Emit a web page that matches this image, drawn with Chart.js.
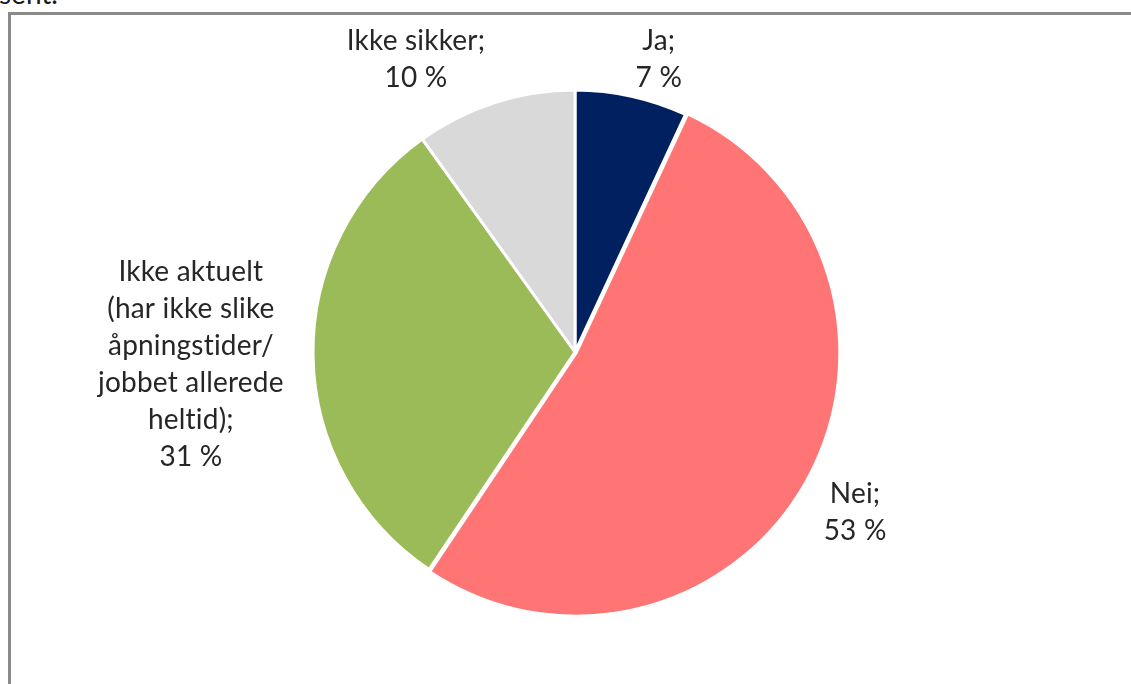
<!DOCTYPE html>
<html>
<head>
<meta charset="utf-8">
<script src="https://cdn.jsdelivr.net/npm/chart.js@4"></script>
<style>
    html, body {
        margin: 0;
        padding: 0;
        width: 1131px;
        height: 684px;
        overflow: hidden;
        background: #ffffff;
        font-family: Lato, "Open Sans", sans-serif;
    }
    .doc-text {
        position: absolute;
        left: -1px;
        top: -24px;
        font-size: 28px;
        color: #1a1a1a;
        white-space: nowrap;
    }
    .frame {
        position: absolute;
        left: 8px;
        top: 12px;
        width: 1140px;
        height: 700px;
        border: 3px solid #8a8a8a;
        box-sizing: border-box;
    }
    .chart-box {
        position: absolute;
        left: 0;
        top: 0;
        width: 1131px;
        height: 684px;
    }
</style>
</head>
<body>
<div class="doc-text">sent.</div>
<div class="frame"></div>
<div class="chart-box"><canvas id="pieChart"></canvas></div>

<script>
// Answer categories (clockwise from 12 o'clock), wrapped as shown in the labels
const categories = [
    ['Ja'],
    ['Nei'],
    ['Ikke aktuelt', '(har ikke slike', 'åpningstider/', 'jobbet allerede', 'heltid)'],
    ['Ikke sikker']
];
// Share of respondents, percent
const shares = [7, 53, 31, 10];
const sliceColors = ['#002060', '#ff7575', '#9bbb59', '#d9d9d9'];

// Where each label block sits, relative to the pie centre, in units of the radius
const labelSpots = [
    { dx: 0.32, dy: -1.118 },
    { dx: 1.069, dy: 0.611 },
    { dx: -1.466, dy: 0.046 },
    { dx: -0.607, dy: -1.115 }
];

const outsideLabels = {
    id: 'outsideLabels',
    afterDatasetsDraw(chart) {
        const ctx = chart.ctx;
        const meta = chart.getDatasetMeta(0);
        const lineHeight = 37;
        ctx.save();
        ctx.font = '28px Lato, "Open Sans", sans-serif';
        // a tiny spacing keeps Lato from joining "ti" into a ligature
        ctx.letterSpacing = '0.2px';
        ctx.fillStyle = '#262626';
        ctx.textAlign = 'center';
        ctx.textBaseline = 'middle';
        meta.data.forEach(function (arc, i) {
            const lines = categories[i].slice();
            lines[lines.length - 1] += ';';
            lines.push(shares[i] + ' %');
            const r = arc.outerRadius;
            const cx = arc.x + labelSpots[i].dx * r;
            const cy = arc.y + labelSpots[i].dy * r;
            const top = cy - (lines.length - 1) * lineHeight / 2;
            lines.forEach(function (line, j) {
                ctx.fillText(line, cx, top + j * lineHeight);
            });
        });
        ctx.restore();
    }
};

const ctx = document.getElementById('pieChart').getContext('2d');

new Chart(ctx, {
    type: 'pie',
    data: {
        labels: categories.map(function (c) { return c.join(' '); }),
        datasets: [{
            data: shares,
            backgroundColor: sliceColors,
            borderColor: '#ffffff',
            borderWidth: 3,
            hoverBorderWidth: 3,
            offset: [0, 6, 0, 0],
            hoverOffset: 0
        }]
    },
    options: {
        responsive: true,
        maintainAspectRatio: false,
        animation: false,
        layout: {
            padding: { left: 308.5, right: 289.5, top: 85.5, bottom: 65.5 }
        },
        plugins: {
            legend: { display: false },
            tooltip: { enabled: false }
        }
    },
    plugins: [outsideLabels]
});
</script>
</body>
</html>
